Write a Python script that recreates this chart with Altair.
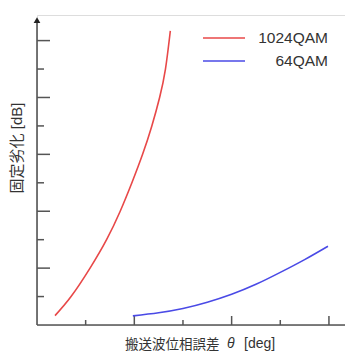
import altair as alt
import pandas as pd

# ---- data ----
red_x = [0.37, 0.70, 1.09, 1.43, 1.71, 1.95, 2.17, 2.36, 2.52, 2.64, 2.74]
red_y = [0.33, 1.0, 2.0, 3.0, 4.0, 5.0, 6.0, 7.0, 8.0, 9.0, 10.34]
blue_x = [1.97, 2.5, 3.0, 3.5, 4.0, 4.5, 5.0, 5.5, 5.98]
blue_y = [0.32, 0.43, 0.58, 0.80, 1.08, 1.43, 1.85, 2.30, 2.77]
series = ["1024QAM", "64QAM"]
colors = ["#e84848", "#4a4ae6"]
x_ticks = [1, 2, 3, 4, 5, 6]
y_ticks = [1, 2, 3, 4, 5, 6, 7, 8, 9, 10]
x_title = ["搬送波位相誤差", "θ", "[deg]"]
y_title = "固定劣化 [dB]"

X_MAX = 6.33
Y_MAX = 10.9
W, H = 308, 310
AX = "#555555"
TXT = "#333333"
FONT = "Liberation Sans, Noto Sans CJK JP"

xs = alt.Scale(domain=[0, X_MAX], nice=False, zero=False)
ys = alt.Scale(domain=[0, Y_MAX], nice=False, zero=False)
cs = alt.Scale(domain=series, range=colors)

curves = pd.DataFrame(
    [{"s": series[0], "x": a, "y": b, "o": i} for i, (a, b) in enumerate(zip(red_x, red_y))]
    + [{"s": series[1], "x": a, "y": b, "o": i} for i, (a, b) in enumerate(zip(blue_x, blue_y))]
)
lines = alt.Chart(curves).mark_line(strokeWidth=1.6, interpolate="natural").encode(
    x=alt.X("x:Q", scale=xs, axis=None),
    y=alt.Y("y:Q", scale=ys, axis=None),
    color=alt.Color("s:N", scale=cs, legend=None),
    order="o:Q",
)

# axes
axis_df = pd.DataFrame({"x0": [0, 0], "x1": [X_MAX, 0], "y0": [0, 0], "y1": [0, 10.7]})
axes = alt.Chart(axis_df).mark_rule(color=AX, strokeWidth=1.6).encode(
    x=alt.X("x0:Q", scale=xs, axis=None), x2="x1:Q",
    y=alt.Y("y0:Q", scale=ys, axis=None), y2="y1:Q",
)
arrow = alt.Chart(pd.DataFrame({"x": [0], "y": [10.72]})).mark_point(
    shape="triangle-up", filled=True, color="#222222", size=45, opacity=1
).encode(x=alt.X("x:Q", scale=xs, axis=None), y=alt.Y("y:Q", scale=ys, axis=None))

ytk = pd.DataFrame({"y": y_ticks, "major": [v % 2 == 0 for v in y_ticks]})
ytick_major = alt.Chart(ytk[ytk.major]).mark_rule(color=AX, strokeWidth=1.5).encode(
    y=alt.Y("y:Q", scale=ys, axis=None), x=alt.value(0), x2=alt.value(13))
ytick_minor = alt.Chart(ytk[~ytk.major]).mark_rule(color=AX, strokeWidth=1.5).encode(
    y=alt.Y("y:Q", scale=ys, axis=None), x=alt.value(0), x2=alt.value(7))

xtk = pd.DataFrame({"x": x_ticks, "major": [v % 2 == 0 for v in x_ticks]})
xtick_major = alt.Chart(xtk[xtk.major]).mark_rule(color=AX, strokeWidth=1.5).encode(
    x=alt.X("x:Q", scale=xs, axis=None), y=alt.value(H), y2=alt.value(H - 9))
xtick_minor = alt.Chart(xtk[~xtk.major]).mark_rule(color=AX, strokeWidth=1.5).encode(
    x=alt.X("x:Q", scale=xs, axis=None), y=alt.value(H), y2=alt.value(H - 5))

# legend (drawn by hand, one row per series)
legend_layers = []
for name, ypix in zip(series, [23, 46]):
    d = pd.DataFrame({"s": [name]})
    legend_layers.append(alt.Chart(d).mark_rule(strokeWidth=1.6).encode(
        x=alt.value(166), x2=alt.value(208), y=alt.value(ypix),
        color=alt.Color("s:N", scale=cs, legend=None)))
    legend_layers.append(alt.Chart(d).mark_text(
        align="right", baseline="middle", font=FONT, fontSize=15.5, color=TXT
    ).encode(x=alt.value(291), y=alt.value(ypix), text="s:N"))

# axis titles
xt1 = alt.Chart(pd.DataFrame({"t": [x_title[0]]})).mark_text(
    align="left", baseline="middle", font=FONT, fontSize=13.5, color=TXT
).encode(x=alt.value(88), y=alt.value(H + 20), text="t:N")
xt2 = alt.Chart(pd.DataFrame({"t": [x_title[1]]})).mark_text(
    align="left", baseline="middle", font=FONT, fontSize=14, fontStyle="italic", color=TXT
).encode(x=alt.value(190), y=alt.value(H + 19), text="t:N")
xt3 = alt.Chart(pd.DataFrame({"t": [x_title[2]]})).mark_text(
    align="left", baseline="middle", font=FONT, fontSize=14, color=TXT
).encode(x=alt.value(207), y=alt.value(H + 19), text="t:N")
yt = alt.Chart(pd.DataFrame({"t": [y_title]})).mark_text(
    align="center", baseline="middle", font=FONT, fontSize=15, angle=270, color=TXT
).encode(x=alt.value(-20), y=alt.value(133), text="t:N")

chart = alt.layer(
    axes, ytick_major, ytick_minor, xtick_major, xtick_minor, arrow,
    lines, *legend_layers, xt1, xt2, xt3, yt
).properties(
    width=W, height=H,
    autosize=alt.AutoSizeParams(type="none"),
    padding={"left": 37, "top": 15, "right": 0, "bottom": 26},
).configure_view(stroke=None).configure(background="white")

chart.save("out.html", embed_options={"renderer": "svg", "actions": False})
